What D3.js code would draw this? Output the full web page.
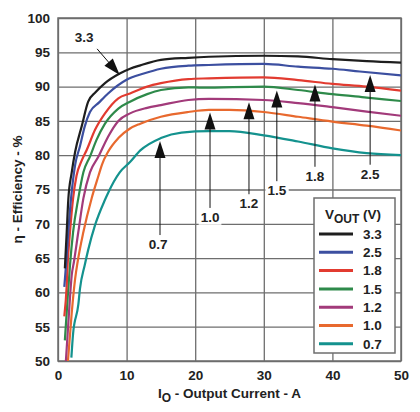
<!DOCTYPE html>
<html>
<head>
<meta charset="utf-8">
<script src="https://cdn.jsdelivr.net/npm/d3@7"></script>
<style>
  html, body { margin: 0; padding: 0; background: #fff; }
  svg { display: block; font-family: "Liberation Sans", Arial, sans-serif; }
</style>
</head>
<body>
<svg id="chart" width="420" height="412"></svg>
<script>
// ---------- data ----------
const seriesNames = ["3.3", "2.5", "1.8", "1.5", "1.2", "1.0", "0.7"];
const seriesColors = ["#1e1e1e", "#3c4fa0", "#e23b30", "#2e8a4a", "#a23a7a", "#e8692e", "#14928e"];

const v33 = [[1.0,63.5],[1.27,68.8],[1.5,73.5],[2.0,77.5],[2.5,80.5],[3.45,84.2],[4.4,87.8],[5.5,89.2],[6.85,90.5],[9,91.9],[10.5,92.6],[12,93.1],[15,93.9],[19,94.2],[22,94.35],[30,94.5],[35,94.4],[40,94.0],[45,93.7],[50,93.5]];
const v25 = [[0.92,60.8],[1.17,64],[1.5,68.8],[1.9,73.7],[2.5,78.6],[3.2,81.3],[3.9,84.2],[4.66,86.3],[6,87.7],[7.3,89],[10,91],[12.5,91.9],[15,92.6],[19,93.05],[22,93.15],[30,93.3],[35,92.9],[40,92.6],[44,92.2],[50,91.65]];
const v18 = [[0.92,56.5],[1.27,61],[1.4,64],[1.75,68.8],[2.2,73.7],[2.7,77],[3.45,79.2],[4.2,80.8],[5.4,83.7],[6.85,86.1],[8.8,88.3],[10.5,89],[13,90],[15,90.5],[19,91.1],[22,91.2],[30,91.35],[35,90.95],[40,90.4],[45,90],[50,89.4]];
const v15 = [[1.0,53],[1.4,59.1],[1.75,64],[2.2,68.8],[2.96,73.7],[3.7,77.5],[4.66,79.8],[5.6,82.2],[6.85,84.6],[8.8,86.8],[10.5,87.8],[13,88.9],[15,89.5],[19,89.9],[21,89.85],[30,90.0],[35,89.5],[40,88.9],[45,88.4],[50,87.9]];
const v12 = [[1.15,50],[1.6,57],[2.0,62.5],[2.33,64.5],[2.96,68.8],[3.7,73.7],[4.66,77.5],[5.9,79.8],[7.3,82.7],[8.8,85],[10.5,86.1],[13,86.9],[15,87.3],[19,88.05],[22,88.2],[30,88.05],[35,87.6],[40,87],[45,86.35],[50,85.75]];
const v10 = [[1.45,50],[2.0,57],[2.5,62],[2.87,64.5],[3.7,68.8],[4.9,73.7],[5.9,77],[6.4,78.6],[7.3,80.5],[8.8,82.5],[10.5,83.9],[12,84.6],[15,85.6],[19,86.3],[22,86.6],[25,86.6],[30,86.3],[35,85.6],[40,84.9],[45,84.3],[50,83.6]];
const v07 = [[1.95,50.5],[2.2,54],[2.96,58.2],[3.2,60.5],[3.9,64],[4.4,66.2],[5.4,69.8],[6.85,73.5],[7.3,74.5],[9,77.5],[10.5,79],[12,80.7],[15,82.5],[18,83.3],[22,83.5],[25,83.5],[30,82.9],[35,82.0],[40,81],[45,80.3],[50,80]];
const seriesValues = [v33, v25, v18, v15, v12, v10, v07];

const xTicks = [0, 10, 20, 30, 40, 50];
const yTicks = [50, 55, 60, 65, 70, 75, 80, 85, 90, 95, 100];

// annotation: series index, arrow current, label position (current, efficiency)
const annotations = [
  { s: 6, label: "0.7", ax: 14.87, lx: 14.6, ly: 67.05 },
  { s: 5, label: "1.0", ax: 22.16, lx: 22.16, ly: 71.0 },
  { s: 4, label: "1.2", ax: 27.84, lx: 27.84, ly: 73.0 },
  { s: 3, label: "1.5", ax: 31.9, lx: 31.9, ly: 74.9 },
  { s: 2, label: "1.8", ax: 37.46, lx: 37.46, ly: 77.0 },
  { s: 1, label: "2.5", ax: 45.5, lx: 45.5, ly: 77.3 }
];
const angledAnnotation = { s: 0, label: "3.3", ax: 9.0, lx: 3.8, ly: 97.15, sx: 5.7, sy: 95.5 };

// ---------- layout ----------
const W = 420, H = 412;
const m = { left: 58, top: 18, right: 19, bottom: 51 };
const svg = d3.select("#chart");
const x = d3.scaleLinear().domain([0, 50]).range([m.left, W - m.right]);
const y = d3.scaleLinear().domain([50, 100]).range([H - m.bottom, m.top]);
const gridColor = "#6e6e6e";
const textColor = "#222";

// grid
const gx = svg.append("g").attr("transform", `translate(0,${H - m.bottom})`)
  .call(d3.axisBottom(x).tickValues(xTicks).tickSize(-(H - m.bottom - m.top)).tickFormat(d3.format("d")).tickPadding(9));
const gy = svg.append("g").attr("transform", `translate(${m.left},0)`)
  .call(d3.axisLeft(y).tickValues(yTicks).tickSize(-(W - m.right - m.left)).tickFormat(d3.format("d")).tickPadding(8));
[gx, gy].forEach(g => {
  g.select(".domain").remove();
  g.selectAll(".tick line").attr("stroke", gridColor).attr("stroke-width", 1.3);
  g.selectAll(".tick text").attr("fill", textColor).attr("font-size", 13.5).attr("font-weight", "bold")
    .attr("font-family", "'Liberation Sans', Arial, sans-serif");
});
svg.append("rect").attr("x", m.left).attr("y", m.top)
  .attr("width", W - m.right - m.left).attr("height", H - m.bottom - m.top)
  .attr("fill", "none").attr("stroke", gridColor).attr("stroke-width", 1.5);

// clip
svg.append("clipPath").attr("id", "clip").append("rect")
  .attr("x", m.left).attr("y", m.top).attr("width", W - m.right - m.left).attr("height", H - m.bottom - m.top);

// lines
const line = d3.line().x(d => x(d[0])).y(d => y(d[1])).curve(d3.curveMonotoneX);
const lg = svg.append("g").attr("clip-path", "url(#clip)");
seriesValues.slice().reverse().forEach((vals, ri) => {
  const i = seriesValues.length - 1 - ri;
  lg.append("path").attr("d", line(vals)).attr("fill", "none")
    .attr("stroke", seriesColors[i]).attr("stroke-width", 2.2).attr("stroke-linejoin", "round");
});

// interpolation helper for arrow tips
function valueAt(vals, cx) {
  for (let k = 0; k < vals.length - 1; k++) {
    const a = vals[k], b = vals[k + 1];
    if (cx >= a[0] && cx <= b[0]) return a[1] + (b[1] - a[1]) * (cx - a[0]) / (b[0] - a[0]);
  }
  return vals[vals.length - 1][1];
}

// annotations
const ag = svg.append("g");
function labelBox(cx, cy, txt) {
  const t = ag.append("text").attr("x", cx).attr("y", cy).attr("text-anchor", "middle")
    .attr("dy", "0.36em").attr("font-size", 13.5).attr("font-weight", "bold").attr("fill", textColor).text(txt);
  const bb = t.node().getBBox();
  ag.insert("rect", "text").attr("x", bb.x - 2).attr("y", bb.y - 1)
    .attr("width", bb.width + 4).attr("height", bb.height + 1).attr("fill", "#fff");
}
function arrowHead(tx, ty, angle) {
  // tip at (tx,ty), pointing in direction angle (radians); length 17, half-width 5.5
  const L = 17, hw = 5.5;
  const ux = Math.cos(angle), uy = Math.sin(angle);
  const bx = tx - ux * L, by = ty - uy * L;
  const px = -uy, py = ux;
  ag.append("path").attr("d", `M${tx},${ty}L${bx + px * hw},${by + py * hw}L${bx - px * hw},${by - py * hw}Z`)
    .attr("fill", "#111");
}
annotations.forEach(a => {
  const ax = x(a.ax);
  const tipY = y(valueAt(seriesValues[a.s], a.ax)) + 2.5;
  const ly = y(a.ly);
  ag.append("line").attr("x1", ax).attr("x2", ax).attr("y1", ly - 9).attr("y2", tipY + 10)
    .attr("stroke", "#111").attr("stroke-width", 1);
  arrowHead(ax, tipY, -Math.PI / 2);
  labelBox(x(a.lx), ly, a.label);
});
{
  const a = angledAnnotation;
  const tx = x(a.ax), ty = y(valueAt(seriesValues[a.s], a.ax)) + 1.5;
  const sx = x(a.sx), sy = y(a.sy);
  const ang = Math.atan2(ty - sy, tx - sx);
  ag.append("line").attr("x1", sx).attr("y1", sy).attr("x2", tx - Math.cos(ang) * 10).attr("y2", ty - Math.sin(ang) * 10)
    .attr("stroke", "#111").attr("stroke-width", 1);
  arrowHead(tx, ty, ang);
  labelBox(x(a.lx), y(a.ly), a.label);
}

// legend
const leg = svg.append("g");
leg.append("rect").attr("x", 314).attr("y", 198).attr("width", 81).attr("height", 155)
  .attr("fill", "#fff").attr("stroke", gridColor).attr("stroke-width", 1.5);
const title = leg.append("text").attr("x", 353).attr("y", 218.5).attr("text-anchor", "middle")
  .attr("font-size", 13.5).attr("font-weight", "bold").attr("fill", textColor);
title.append("tspan").text("V");
title.append("tspan").attr("dy", 4.5).attr("font-size", 12).text("OUT");
title.append("tspan").attr("dy", -4.5).text(" (V)");
seriesNames.forEach((n, i) => {
  const ly = 234 + i * 18.3;
  leg.append("line").attr("x1", 319).attr("x2", 353).attr("y1", ly).attr("y2", ly)
    .attr("stroke", seriesColors[i]).attr("stroke-width", 3);
  leg.append("text").attr("x", 363).attr("y", ly).attr("dy", "0.36em")
    .attr("font-size", 13.5).attr("font-weight", "bold").attr("fill", textColor).text(n);
});

// axis titles
const xt = svg.append("text").attr("x", (m.left + W - m.right) / 2).attr("y", 398).attr("text-anchor", "middle")
  .attr("font-size", 13.5).attr("font-weight", "bold").attr("fill", textColor);
xt.append("tspan").text("I");
xt.append("tspan").attr("dy", 4).attr("font-size", 12).text("O");
xt.append("tspan").attr("dy", -4).text(" - Output Current - A");

svg.append("text").attr("transform", `translate(22,${(m.top + H - m.bottom) / 2}) rotate(-90)`)
  .attr("text-anchor", "middle").attr("font-size", 13.5).attr("font-weight", "bold").attr("fill", textColor)
  .text("η - Efficiency - %");
</script>
</body>
</html>
